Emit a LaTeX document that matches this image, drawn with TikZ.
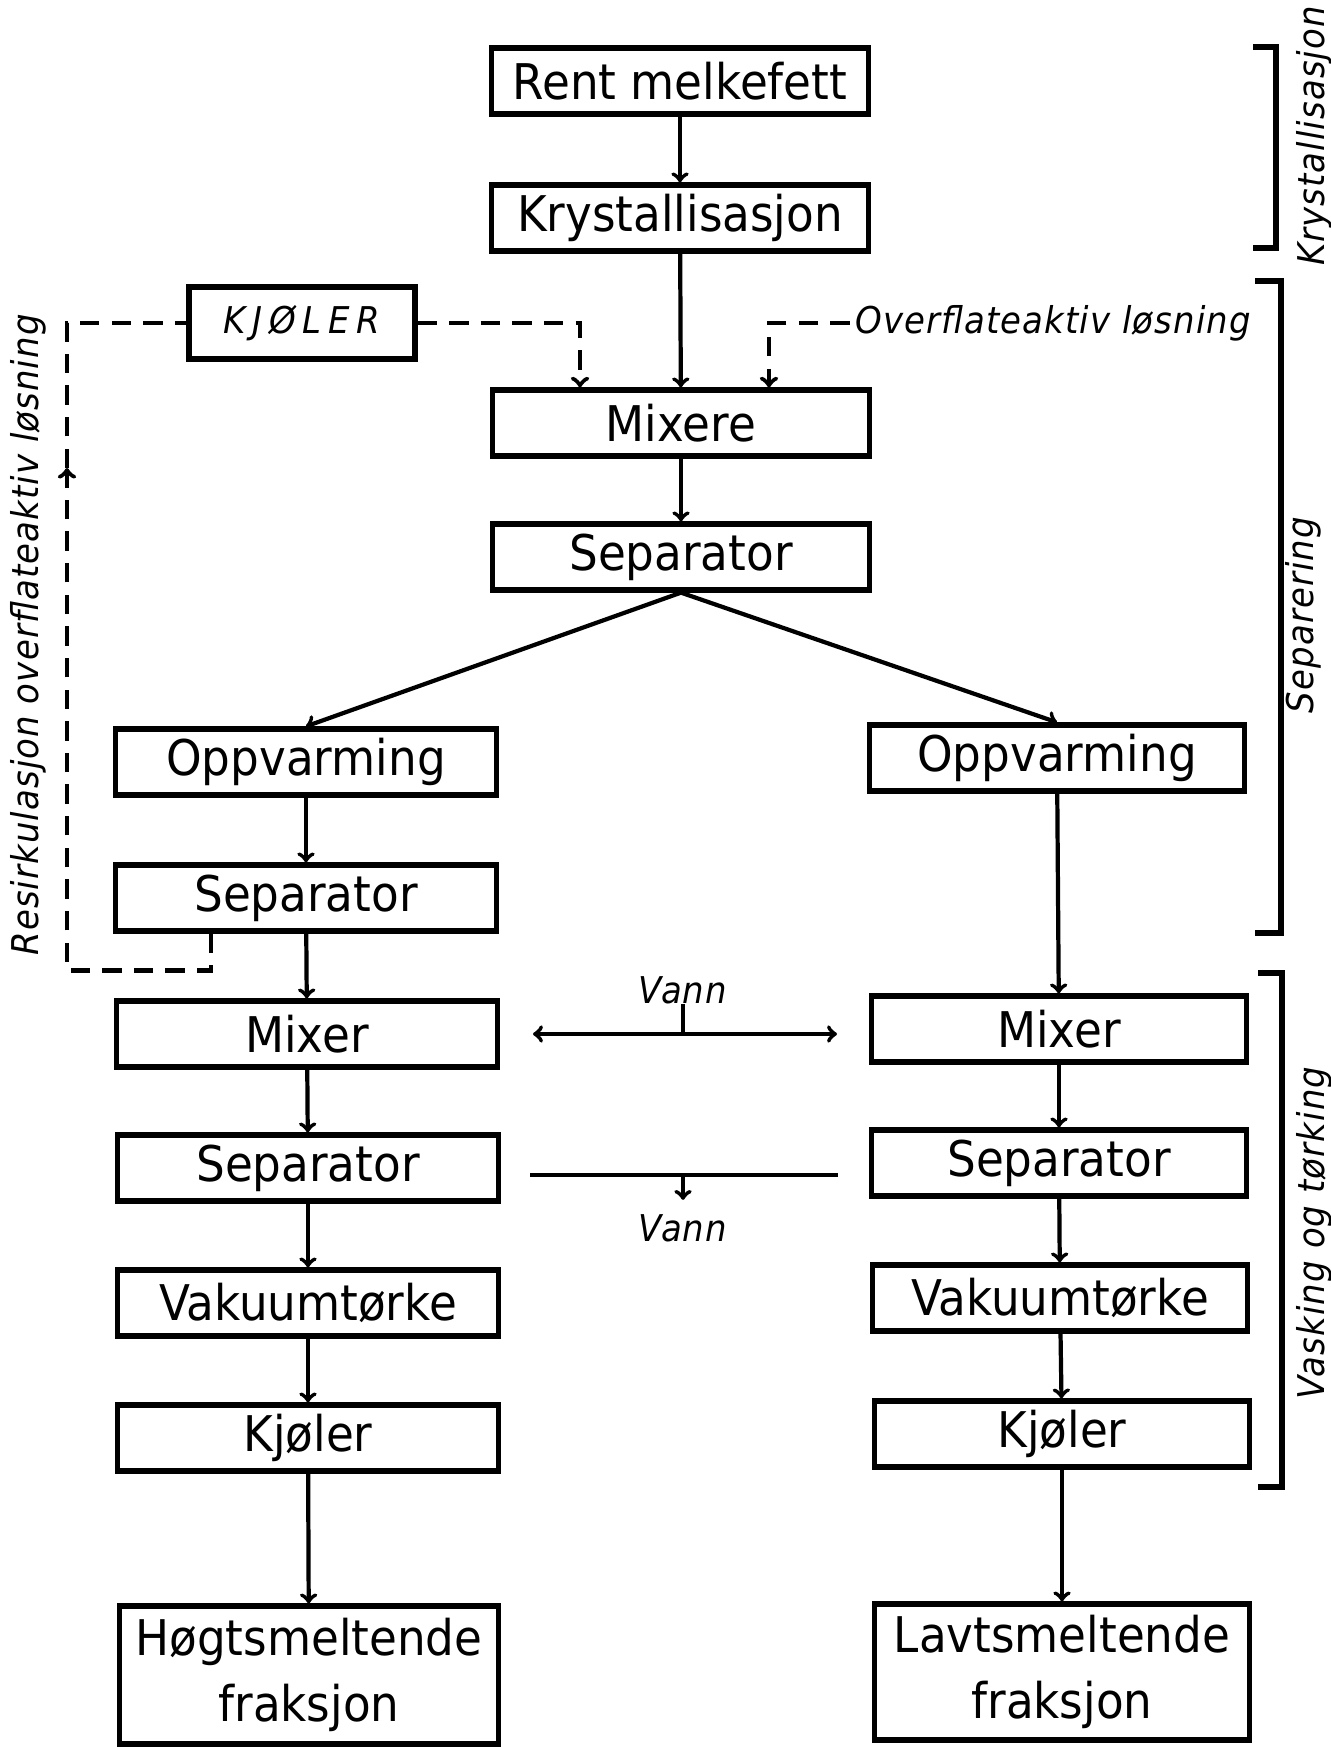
\documentclass[tikz,border=0pt]{standalone}
\usepackage{fontspec}
\setmainfont{DejaVu Sans}[FakeStretch=0.92]
\usepackage{tikz}
\pgfdeclarelayer{edgelayer}
\pgfdeclarelayer{nodelayer}
\pgfsetlayers{edgelayer,nodelayer,main}
\newcommand{\boxfont}{\fontsize{28}{38}\selectfont}
\newcommand{\notefont}{\fontsize{21}{25}\selectfont\itshape\addfontfeature{LetterSpace=3}}
\tikzstyle{box}=[draw=black, fill=white, line width=3pt, inner sep=0pt, minimum width=7.55cm, minimum height=1.32cm, align=center, font=\boxfont]
\tikzstyle{note}=[inner sep=0pt, font=\notefont]
\tikzstyle{flow}=[draw=black, line width=2.4pt, ->]
\tikzstyle{dashflow}=[draw=black, line width=2.6pt, dash pattern=on 11pt off 7pt]
\tikzstyle{bracket}=[draw=black, line width=3pt]

\begin{document}
\begin{tikzpicture}[x=0.02cm, y=-0.02cm]
			\useasboundingbox (0,0) rectangle (1331,1747);
			\begin{pgfonlayer}{nodelayer}
				\node [style=box] (0) at (680, 81) {Rent melkefett};
				\node [style=box] (1) at (680, 218) {Krystallisasjon};
				\node [style=box, minimum width=4.52cm, minimum height=1.44cm, font=\notefont\addfontfeature{LetterSpace=18}] (2) at (302, 323) {KJØLER};
				\node [style=box] (3) at (681, 423) {Mixere};
				\node [style=box] (4) at (681, 557) {Separator};
				\node [style=box, minimum width=7.62cm] (5) at (306, 762) {Oppvarming};
				\node [style=box, minimum width=7.5cm] (6) at (1057, 758) {Oppvarming};
				\node [style=box, minimum width=7.62cm] (7) at (306, 898) {Separator};
				\node [style=box, minimum width=7.62cm] (8) at (307, 1034) {Mixer};
				\node [style=box, minimum width=7.5cm] (9) at (1059, 1029) {Mixer};
				\node [style=box, minimum width=7.62cm] (10) at (308, 1168) {Separator};
				\node [style=box, minimum width=7.5cm] (11) at (1059, 1163) {Separator};
				\node [style=box, minimum width=7.62cm] (12) at (308, 1303) {Vakuumtørke};
				\node [style=box, minimum width=7.5cm] (13) at (1060, 1298) {Vakuumtørke};
				\node [style=box, minimum width=7.62cm] (14) at (308, 1438) {Kjøler};
				\node [style=box, minimum width=7.5cm] (15) at (1062, 1434) {Kjøler};
				\node [style=box, minimum width=7.58cm, minimum height=2.76cm] (16) at (309, 1675) {Høgtsmeltende\\fraksjon};
				\node [style=box, minimum width=7.5cm, minimum height=2.72cm] (17) at (1062, 1672) {Lavtsmeltende\\fraksjon};
				\node [style=note, anchor=west] (18) at (855, 323) {Overflateaktiv løsning};
				\node [style=note] (19) at (683, 990) {Vann};
				\node [style=note] (20) at (683, 1228) {Vann};
				\node [style=note, rotate=90] (21) at (28, 635) {Resirkulasjon overflateaktiv løsning};
				\node [style=note, rotate=90] (22) at (1314, 136) {Krystallisasjon};
				\node [style=note, rotate=90] (23) at (1303, 615) {Separering};
				\node [style=note, rotate=90] (24) at (1314, 1233) {Vasking og tørking};
				\coordinate (25) at (67, 468);
				\coordinate (26) at (533, 1034);
				\coordinate (27) at (837, 1034);
				\coordinate (28) at (530, 1175);
				\coordinate (29) at (838, 1175);
			\end{pgfonlayer}
			\begin{pgfonlayer}{edgelayer}
				\draw [style=flow] (0) to (1);
				\draw [style=flow] (1) to (3);
				\draw [style=flow] (3) to (4);
				\draw [style=flow] (4.south) to (5.north);
				\draw [style=flow] (4.south) to (6.north);
				\draw [style=flow] (5) to (7);
				\draw [style=flow] (7) to (8);
				\draw [style=flow] (8) to (10);
				\draw [style=flow] (10) to (12);
				\draw [style=flow] (12) to (14);
				\draw [style=flow] (14) to (16);
				\draw [style=flow] (6) to (9);
				\draw [style=flow] (9) to (11);
				\draw [style=flow] (11) to (13);
				\draw [style=flow] (13) to (15);
				\draw [style=flow] (15) to (17);
				\draw [style=dashflow, ->] (2.east) -| ([xshift=-2.02cm]3.north);
				\draw [style=dashflow, ->] ([xshift=-3pt]18.west) -| ([xshift=1.76cm]3.north);
				\draw [style=dashflow, ->] ([xshift=-1.9cm]7.south) -- ++(0, 37) -| (25);
				\draw [style=dashflow] (25) |- (2.west);
				\draw [style=flow, <->] (26) to (27);
				\draw [style=flow, -] (19.south) to (19.south |- 26);
				\draw [style=flow, -] (28) to (29);
				\draw [style=flow] (28 -| 20) to ([yshift=8pt]20.north);
			\end{pgfonlayer}
			\draw [style=bracket] (1253, 47) -| (1276, 248) -- (1253, 248);
			\draw [style=bracket] (1255, 281) -| (1281, 933) -- (1255, 933);
			\draw [style=bracket] (1258, 973) -| (1282, 1487) -- (1258, 1487);
		\end{tikzpicture}
\end{document}
